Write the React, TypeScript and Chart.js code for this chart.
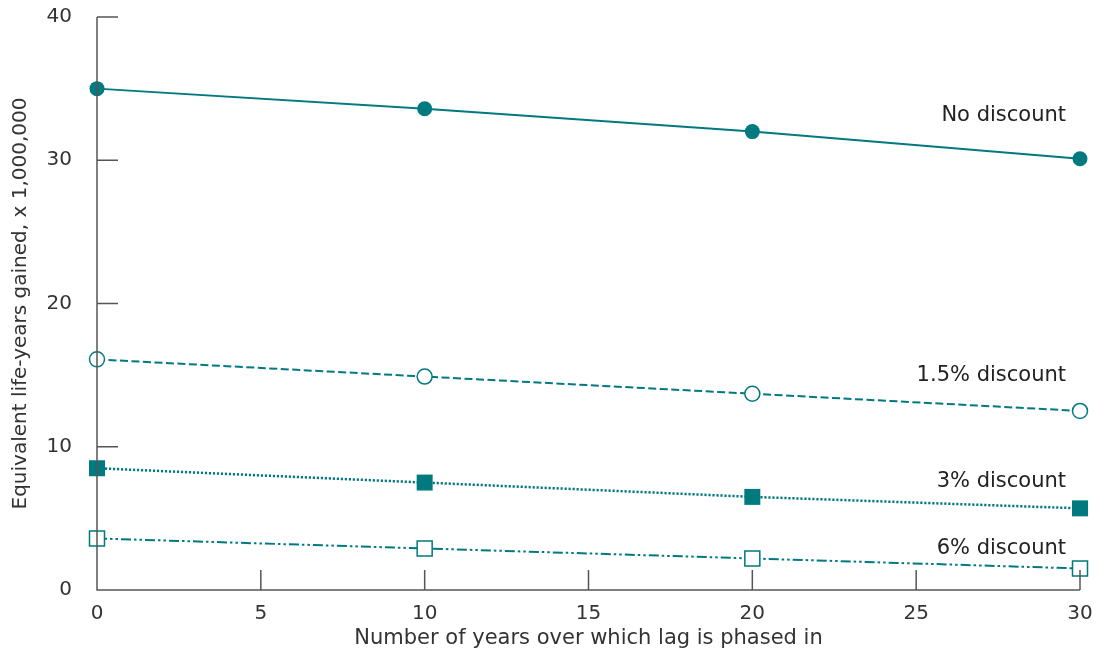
import React, { useEffect, useRef } from "react";
import { Chart, registerables } from "chart.js";

Chart.register(...registerables);

const years = [0, 10, 20, 30];
const noDiscount = [35.0, 33.6, 32.0, 30.1];
const discount15 = [16.1, 14.9, 13.7, 12.5];
const discount3 = [8.5, 7.5, 6.5, 5.7];
const discount6 = [3.6, 2.9, 2.2, 1.5];

const seriesLabels = ["No discount", "1.5% discount", "3% discount", "6% discount"];
const labelYValues = [33.1, 15.0, 7.6, 2.86];

const xTicks = [0, 5, 10, 15, 20, 25, 30];
const yTicks = [0, 10, 20, 30, 40];

const TEAL = "#00797f";
const AXIS = "#555555";
const FONT = "'DejaVu Sans', sans-serif";

const axesPlugin = {
  id: "inwardAxes",
  afterDraw(chart: any) {
    const { ctx, chartArea } = chart;
    const xs = chart.scales.x;
    const ys = chart.scales.y;
    ctx.save();
    ctx.strokeStyle = AXIS;
    ctx.lineWidth = 1.5;
    ctx.beginPath();
    ctx.moveTo(chartArea.left, chartArea.top);
    ctx.lineTo(chartArea.left, chartArea.bottom);
    ctx.lineTo(chartArea.right, chartArea.bottom);
    for (const v of yTicks) {
      const py = ys.getPixelForValue(v);
      ctx.moveTo(chartArea.left, py);
      ctx.lineTo(chartArea.left + 21, py);
    }
    for (const v of xTicks) {
      const px = xs.getPixelForValue(v);
      ctx.moveTo(px, chartArea.bottom);
      ctx.lineTo(px, chartArea.bottom - 20);
    }
    ctx.stroke();
    ctx.fillStyle = "#222222";
    ctx.font = `21px ${FONT}`;
    ctx.textAlign = "right";
    ctx.textBaseline = "middle";
    seriesLabels.forEach((t, i) => {
      ctx.fillText(t, xs.getPixelForValue(30) - 14, ys.getPixelForValue(labelYValues[i]));
    });
    ctx.restore();
  },
};

export default function App() {
  const ref = useRef<HTMLCanvasElement>(null);
  useEffect(() => {
    if (!ref.current) return;
    const chart = new Chart(ref.current, {
      type: "line",
      data: {
        labels: years,
        datasets: [
          {
            label: seriesLabels[0],
            data: years.map((x, i) => ({ x, y: noDiscount[i] })),
            borderColor: TEAL,
            backgroundColor: TEAL,
            borderWidth: 2,
            pointStyle: "circle",
            pointRadius: 7.5,
            pointBorderWidth: 0,
            clip: false,
          },
          {
            label: seriesLabels[1],
            data: years.map((x, i) => ({ x, y: discount15[i] })),
            borderColor: TEAL,
            backgroundColor: "#ffffff",
            borderWidth: 2,
            borderDash: [8, 3.5],
            pointStyle: "circle",
            pointRadius: 7.5,
            pointBorderWidth: 1.5,
            pointBorderColor: TEAL,
            pointBackgroundColor: "#ffffff",
            clip: false,
          },
          {
            label: seriesLabels[2],
            data: years.map((x, i) => ({ x, y: discount3[i] })),
            borderColor: TEAL,
            backgroundColor: TEAL,
            borderWidth: 2.5,
            borderDash: [2.2, 1.8],
            pointStyle: "rect",
            pointRadius: 11.3,
            pointBorderWidth: 0,
            clip: false,
          },
          {
            label: seriesLabels[3],
            data: years.map((x, i) => ({ x, y: discount6[i] })),
            borderColor: TEAL,
            backgroundColor: "#ffffff",
            borderWidth: 2,
            borderDash: [10, 3, 2.5, 3, 2.5, 3],
            pointStyle: "rect",
            pointRadius: 10.6,
            pointBorderWidth: 1.5,
            pointBorderColor: TEAL,
            pointBackgroundColor: "#ffffff",
            clip: false,
          },
        ],
      },
      options: {
        animation: false,
        responsive: false,
        maintainAspectRatio: false,
        layout: { padding: { left: 0, right: 20, top: 17, bottom: 0 } },
        plugins: { legend: { display: false }, tooltip: { enabled: false } },
        elements: { line: { tension: 0 } },
        scales: {
          x: {
            type: "linear",
            min: 0,
            max: 30,
            afterFit: (s: any) => {
              s.height = 67;
              s.paddingLeft = 0;
              s.paddingRight = 0;
            },
            afterBuildTicks: (s: any) => {
              s.ticks = xTicks.map((v) => ({ value: v }));
            },
            grid: { display: false, drawTicks: false },
            border: { display: false },
            ticks: {
              padding: 12,
              color: "#333333",
              font: { family: FONT, size: 20 },
              maxRotation: 0,
            },
            title: {
              display: true,
              text: "Number of years over which lag is phased in",
              color: "#333333",
              font: { family: FONT, size: 21 },
              padding: { top: 0, bottom: 6 },
            },
          },
          y: {
            type: "linear",
            min: 0,
            max: 40,
            afterFit: (s: any) => {
              s.width = 97;
              s.paddingTop = 0;
              s.paddingBottom = 0;
            },
            afterBuildTicks: (s: any) => {
              s.ticks = yTicks.map((v) => ({ value: v }));
            },
            grid: { display: false, drawTicks: false },
            border: { display: false },
            ticks: {
              padding: 25,
              color: "#333333",
              font: { family: FONT, size: 20 },
            },
            title: {
              display: true,
              text: "Equivalent life-years gained, x 1,000,000",
              color: "#333333",
              font: { family: FONT, size: 20 },
              padding: { top: 9, bottom: 0 },
            },
          },
        },
      },
      plugins: [axesPlugin],
    });
    return () => chart.destroy();
  }, []);
  return (
    <div style={{ position: "absolute", left: 0, top: 0, width: 1100, height: 657, background: "#fff" }}>
      <canvas ref={ref} width={1100} height={657} style={{ display: "block" }} />
    </div>
  );
}
